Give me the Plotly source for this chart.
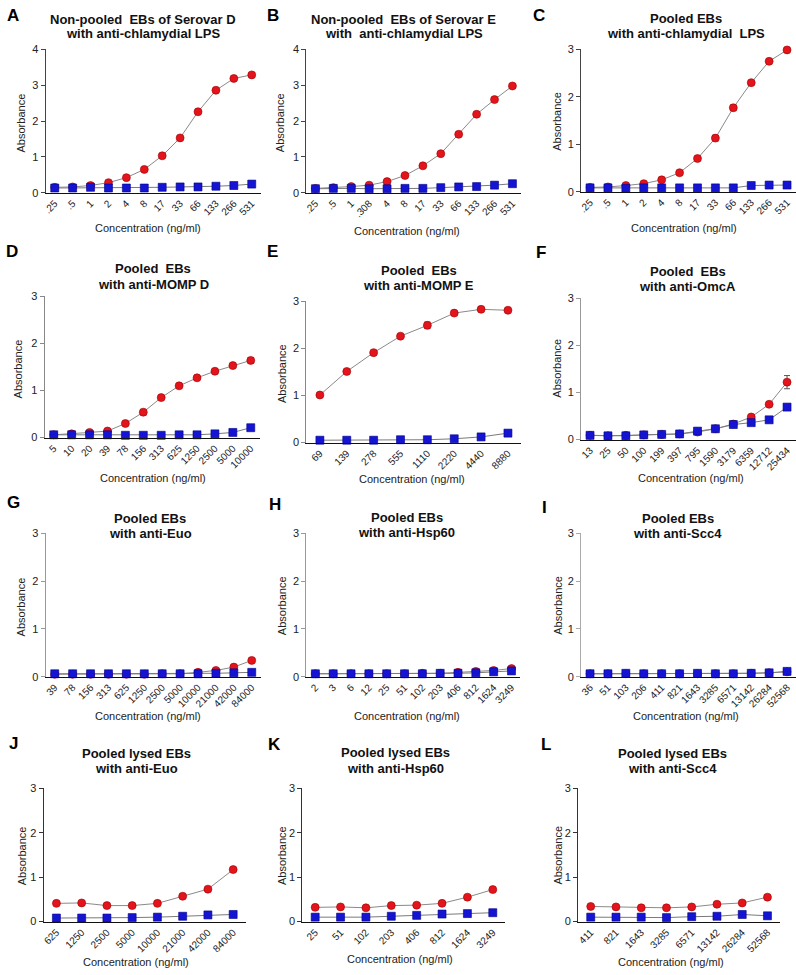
import plotly.graph_objects as go

W, H = 796, 975

# ---------------- data ----------------
cats_A = [".25", ".5", "1", "2", "4", "8", "17", "33", "66", "133", "266", "531"]
red_A = [0.15, 0.16, 0.20, 0.28, 0.42, 0.65, 1.03, 1.53, 2.26, 2.86, 3.19, 3.29]
blue_A = [0.13, 0.13, 0.15, 0.13, 0.13, 0.13, 0.15, 0.16, 0.16, 0.18, 0.20, 0.24]

cats_B = [".25", ".5", "1", ".308", "4", "8", "17", "33", "66", "133", "266", "531"]
red_B = [0.12, 0.14, 0.17, 0.21, 0.31, 0.48, 0.75, 1.09, 1.63, 2.19, 2.60, 2.98]
blue_B = [0.11, 0.12, 0.12, 0.11, 0.11, 0.12, 0.12, 0.14, 0.16, 0.17, 0.21, 0.25]

cats_C = [".25", ".5", "1", "2", "4", "8", "17", "33", "66", "133", "266", "531"]
red_C = [0.09, 0.10, 0.13, 0.17, 0.25, 0.40, 0.70, 1.13, 1.77, 2.30, 2.75, 2.99]
blue_C = [0.08, 0.08, 0.07, 0.08, 0.08, 0.08, 0.08, 0.08, 0.08, 0.13, 0.14, 0.14]
err_C = [0, 0, 0, 0, 0, 0, 0, 0.06, 0.06, 0, 0, 0]

cats_D = ["5", "10", "20", "39", "78", "156", "313", "625", "1250", "2500", "5000", "10000"]
red_D = [0.06, 0.08, 0.11, 0.14, 0.30, 0.54, 0.85, 1.10, 1.27, 1.41, 1.53, 1.64]
blue_D = [0.06, 0.06, 0.06, 0.06, 0.05, 0.05, 0.05, 0.06, 0.06, 0.08, 0.11, 0.21]
err_D = [0, 0, 0, 0, 0, 0.06, 0, 0, 0, 0, 0, 0.06]

cats_E = ["69", "139", "278", "555", "1110", "2220", "4440", "8880"]
red_E = [1.01, 1.51, 1.91, 2.26, 2.49, 2.75, 2.83, 2.81]
blue_E = [0.05, 0.05, 0.05, 0.06, 0.06, 0.08, 0.12, 0.20]
err_E = [0, 0, 0, 0, 0.07, 0, 0, 0]

cats_F = ["13", "25", "50", "100", "199", "397", "795", "1590", "3179", "6359", "12712", "25434"]
red_F = [0.09, 0.08, 0.09, 0.10, 0.11, 0.12, 0.16, 0.23, 0.33, 0.48, 0.75, 1.22]
blue_F = [0.09, 0.08, 0.08, 0.10, 0.11, 0.12, 0.18, 0.23, 0.32, 0.36, 0.42, 0.69]
err_F = [0, 0, 0, 0, 0, 0, 0, 0, 0, 0, 0, 0.14]

cats_G = ["39", "78", "156", "313", "625", "1250", "2500", "5000", "10000", "21000", "42000", "84000"]
red_G = [0.05, 0.05, 0.05, 0.05, 0.05, 0.05, 0.06, 0.06, 0.09, 0.13, 0.20, 0.34]
blue_G = [0.06, 0.06, 0.06, 0.06, 0.06, 0.06, 0.06, 0.06, 0.06, 0.07, 0.08, 0.09]

cats_H = ["2", "3", "6", "12", "25", "51", "102", "203", "406", "812", "1624", "3249"]
red_H = [0.06, 0.06, 0.06, 0.06, 0.06, 0.06, 0.07, 0.07, 0.09, 0.11, 0.13, 0.17]
blue_H = [0.06, 0.06, 0.06, 0.06, 0.06, 0.06, 0.06, 0.07, 0.07, 0.08, 0.10, 0.12]

cats_I = ["36", "51", "103", "206", "411", "821", "1643", "3285", "6571", "13142", "26284", "52568"]
red_I = [0.06, 0.06, 0.06, 0.06, 0.06, 0.06, 0.06, 0.06, 0.06, 0.07, 0.08, 0.10]
blue_I = [0.06, 0.06, 0.07, 0.06, 0.06, 0.06, 0.07, 0.06, 0.06, 0.07, 0.08, 0.11]

cats_J = ["625", "1250", "2500", "5000", "10000", "21000", "42000", "84000"]
red_J = [0.41, 0.42, 0.36, 0.36, 0.41, 0.57, 0.73, 1.17]
blue_J = [0.08, 0.08, 0.08, 0.09, 0.10, 0.12, 0.15, 0.16]

cats_K = ["25", "51", "102", "203", "406", "812", "1624", "3249"]
red_K = [0.32, 0.33, 0.31, 0.36, 0.37, 0.41, 0.55, 0.72]
blue_K = [0.10, 0.10, 0.10, 0.12, 0.14, 0.17, 0.18, 0.20]

cats_L = ["411", "821", "1643", "3285", "6571", "13142", "26284", "52568"]
red_L = [0.34, 0.33, 0.31, 0.31, 0.33, 0.39, 0.42, 0.55]
blue_L = [0.10, 0.10, 0.10, 0.09, 0.11, 0.12, 0.16, 0.13]
err_L = [0, 0, 0, 0, 0, 0, 0, 0.05]

titles = {
    "A": ("Non-pooled  EBs of Serovar D", "with anti-chlamydial LPS"),
    "B": ("Non-pooled  EBs of Serovar E", "with  anti-chlamydial LPS"),
    "C": ("Pooled EBs", "with anti-chlamydial  LPS"),
    "D": ("Pooled  EBs", "with anti-MOMP D"),
    "E": ("Pooled  EBs", "with anti-MOMP E"),
    "F": ("Pooled  EBs", "with anti-OmcA"),
    "G": ("Pooled EBs", "with anti-Euo"),
    "H": ("Pooled EBs", "with anti-Hsp60"),
    "I": ("Pooled EBs", "with anti-Scc4"),
    "J": ("Pooled lysed EBs", "with anti-Euo"),
    "K": ("Pooled lysed EBs", "with anti-Hsp60"),
    "L": ("Pooled lysed EBs", "with anti-Scc4"),
}

data = {
    "A": (cats_A, red_A, blue_A, None),
    "B": (cats_B, red_B, blue_B, None),
    "C": (cats_C, red_C, blue_C, err_C),
    "D": (cats_D, red_D, blue_D, err_D),
    "E": (cats_E, red_E, blue_E, err_E),
    "F": (cats_F, red_F, blue_F, err_F),
    "G": (cats_G, red_G, blue_G, None),
    "H": (cats_H, red_H, blue_H, None),
    "I": (cats_I, red_I, blue_I, None),
    "J": (cats_J, red_J, blue_J, None),
    "K": (cats_K, red_K, blue_K, None),
    "L": (cats_L, red_L, blue_L, err_L),
}

# ---------------- layout (pixels) ----------------
# x0, x1, ytop, ybot, ymax, yaxis colour, title centre x, title line1 y, line2 y,
# letter x, letter y, ytitle x, ytitle y, xtitle x, xtitle y
geom = {
    "A": (42, 258, 44, 189, 4, "#444", 140, 14, 28, 9, 10, 17, 118, 145, 225),
    "B": (304, 520, 44, 189, 4, "#444", 402, 14, 28, 270, 10, 277, 118, 405, 228),
    "C": (580, 796, 44, 188, 3, "#444", 685, 13, 28, 538, 10, 555, 117, 683, 225),
    "D": (41, 257, 294, 437, 3, "#888", 150, 266, 282, 8, 249, 15, 367, 150, 478),
    "E": (304, 520, 299, 442, 3, "#888", 417, 268, 283, 270, 249, 280, 372, 410, 479),
    "F": (580, 796, 296, 439, 3, "#999", 687, 269, 284, 540, 250, 556, 367, 690, 478),
    "G": (42, 258, 534, 679, 3, "#999", 147, 519, 534, 10, 503, 17, 608, 145, 719),
    "H": (304, 519, 534, 679, 3, "#999", 405, 518, 533, 272, 505, 279, 607, 405, 719),
    "I": (580, 796, 534, 679, 3, "#aaa", 677, 519, 534, 543, 508, 556, 607, 685, 719),
    "J": (40, 243, 792, 927, 3, "#333", 133, 757, 772, 10, 747, 19, 860, 133, 968),
    "K": (300, 504, 792, 927, 3, "#333", 393, 756, 772, 272, 748, 280, 860, 398, 965),
    "L": (577, 780, 792, 927, 3, "#333", 672, 757, 772, 545, 748, 557, 860, 670, 968),
}

FONT = "Liberation Sans, Arial, sans-serif"
RED = "#e3141b"
BLUE = "#1414d2"

def px_x(v):
    return v / W

def px_y(v):
    return 1 - v / H

fig = go.Figure()
annotations = []
layout_axes = {}

for i, key in enumerate("ABCDEFGHIJKL", start=1):
    cats, red, blue, err = data[key]
    (x0, x1, yt, yb, ymax, ycol, tx, ty1, ty2, lx, ly, ytx, yty, xtx, xty) = geom[key]
    n = len(cats)
    xs = list(range(n))
    xa = "x" if i == 1 else f"x{i}"
    ya = "y" if i == 1 else f"y{i}"

    red_kw = dict(
        x=xs, y=red, mode="lines+markers", xaxis=xa, yaxis=ya, cliponaxis=False,
        line=dict(color="#8a8a8a", width=1),
        marker=dict(symbol="circle", size=8, color=RED, line=dict(color="#a00000", width=0.6)),
        showlegend=False, hoverinfo="skip",
    )
    if err is not None:
        red_kw["error_y"] = dict(type="data", array=err, visible=True, color="#555", thickness=1, width=3)
    fig.add_trace(go.Scatter(**red_kw))
    fig.add_trace(go.Scatter(
        x=xs, y=blue, mode="lines+markers", xaxis=xa, yaxis=ya, cliponaxis=False,
        line=dict(color="#7a7a7a", width=1),
        marker=dict(symbol="square", size=8, color=BLUE, line=dict(color="#00008a", width=0.6)),
        showlegend=False, hoverinfo="skip",
    ))

    xname = "xaxis" if i == 1 else f"xaxis{i}"
    yname = "yaxis" if i == 1 else f"yaxis{i}"
    layout_axes[xname] = dict(
        domain=[px_x(x0), px_x(x1)], anchor=ya, range=[-0.5, n - 0.5],
        tickvals=xs, ticktext=cats, tickangle=-45, ticks="",
        showline=True, linecolor="#111", linewidth=1.2, showgrid=False, zeroline=False,
        tickfont=dict(family=FONT, size=10, color="#222"), fixedrange=True,
    )
    layout_axes[yname] = dict(
        domain=[px_y(yb), px_y(yt)], anchor=xa, range=[0, ymax],
        tickvals=list(range(ymax + 1)), ticks="outside", ticklen=4, tickcolor=ycol,
        tickwidth=1, showline=True, linecolor=ycol, linewidth=1.2,
        showgrid=False, zeroline=False,
        tickfont=dict(family=FONT, size=11, color="#222"), fixedrange=True,
    )

    annotations.append(dict(
        text=f"<b>{titles[key][0]}</b>", x=px_x(tx), y=px_y(ty1), xref="paper", yref="paper",
        showarrow=False, xanchor="center", yanchor="middle",
        font=dict(family=FONT, size=13, color="#111"),
    ))
    annotations.append(dict(
        text=f"<b>{titles[key][1]}</b>", x=px_x(tx), y=px_y(ty2), xref="paper", yref="paper",
        showarrow=False, xanchor="center", yanchor="middle",
        font=dict(family=FONT, size=13, color="#111"),
    ))
    annotations.append(dict(
        text=f"<b>{key}</b>", x=px_x(lx), y=px_y(ly), xref="paper", yref="paper",
        showarrow=False, xanchor="center", yanchor="middle",
        font=dict(family=FONT, size=17, color="#000"),
    ))
    annotations.append(dict(
        text="Absorbance", x=px_x(ytx), y=px_y(yty), xref="paper", yref="paper",
        showarrow=False, xanchor="center", yanchor="middle", textangle=-90,
        font=dict(family=FONT, size=11, color="#222"),
    ))
    annotations.append(dict(
        text="Concentration (ng/ml)", x=px_x(xtx), y=px_y(xty), xref="paper", yref="paper",
        showarrow=False, xanchor="center", yanchor="middle",
        font=dict(family=FONT, size=11, color="#222"),
    ))

fig.update_layout(
    width=W, height=H, margin=dict(l=0, r=0, t=0, b=0),
    paper_bgcolor="white", plot_bgcolor="white",
    annotations=annotations, **layout_axes,
)

fig.write_html(
    "out.html",
    config={"displayModeBar": False},
    post_script="document.body.style.margin='0';document.body.style.overflow='hidden';",
)
